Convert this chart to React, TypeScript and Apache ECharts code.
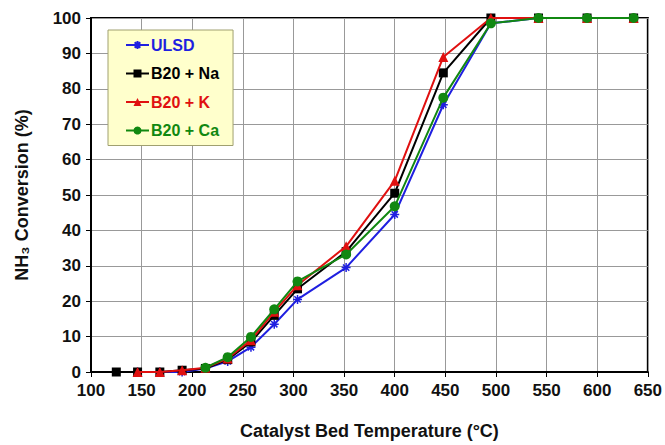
import React, { useEffect, useRef } from "react";
import * as echarts from "echarts";

const temps = [125, 146, 168, 190, 213, 235, 258, 281, 304, 352, 400, 448, 495, 542, 590, 636];
const ulsd = [null, 0, 0, 0, 1, 3, 7, 13.5, 20.5, 29.5, 44.5, 75.5, 98.5, 100, 100, 100];
const na = [0, 0, 0, 0.5, 1, 3.5, 8.5, 16, 23.5, 34, 50.5, 84.5, 100, 100, 100, 100];
const k = [null, 0, 0, 0.5, 1.2, 3.8, 9, 17, 24.5, 35.5, 54, 89, 100, 100, 100, 100];
const ca = [null, null, null, null, 1.2, 4.2, 9.9, 17.7, 25.6, 33.2, 46.8, 77.5, 98.5, 100, 100, 100];
const seriesNames = ["ULSD", "B20 + Na", "B20 + K", "B20 + Ca"];
const seriesColors = ["#1f1fe0", "#000000", "#e01010", "#118811"];

const FONT = "'Liberation Sans', Arial, sans-serif";

export default function App() {
  const ref = useRef<HTMLDivElement>(null);
  useEffect(() => {
    document.body.style.margin = "0";
    if (!ref.current) return;
    const chart = echarts.init(ref.current, undefined, { renderer: "svg" });
    const datas = [ulsd, na, k, ca];
    const star = "path://M0,5L10,5M5,0L5,10M1.5,1.5L8.5,8.5M8.5,1.5L1.5,8.5";
    const symbols = [star, "rect", "triangle", "circle"];
    const sizes = [9, 9, 10, 10];
    chart.setOption({
      animation: false,
      backgroundColor: "#ffffff",
      grid: {
        left: 91,
        right: 16,
        top: 18,
        bottom: 72,
        show: true,
        borderColor: "#000",
        borderWidth: 2,
      },
      legend: {
        orient: "vertical",
        left: 108,
        top: 30,
        backgroundColor: "#ffffcc",
        borderColor: "#a0a070",
        borderWidth: 1,
        padding: [7, 14, 7, 17],
        itemGap: 12.5,
        itemWidth: 23,
        itemHeight: 10,
        data: seriesNames.map((n, i) => ({
          name: n,
          textStyle: { color: seriesColors[i] },
        })),
        textStyle: { fontFamily: FONT, fontWeight: "bold", fontSize: 16, padding: [0, 0, 0, -3] },
      },
      xAxis: {
        type: "value",
        min: 100,
        max: 650,
        interval: 50,
        name: "Catalyst Bed Temperature (°C)",
        nameLocation: "middle",
        nameGap: 50,
        nameTextStyle: { fontFamily: FONT, fontWeight: "bold", fontSize: 18, color: "#111" },
        axisLine: { lineStyle: { color: "#000", width: 2 } },
        axisTick: { show: true, length: 5, lineStyle: { color: "#000" } },
        axisLabel: { fontFamily: FONT, fontWeight: "bold", fontSize: 17, color: "#111", margin: 10 },
        splitLine: { show: true, lineStyle: { color: "#999", width: 1 } },
      },
      yAxis: {
        type: "value",
        min: 0,
        max: 100,
        interval: 10,
        name: "NH₃ Conversion (%)",
        nameLocation: "middle",
        nameGap: 60,
        nameTextStyle: { fontFamily: FONT, fontWeight: "bold", fontSize: 18, color: "#111" },
        axisLine: { lineStyle: { color: "#000", width: 2 } },
        axisTick: { show: true, length: 5, lineStyle: { color: "#000" } },
        axisLabel: { fontFamily: FONT, fontWeight: "bold", fontSize: 17, color: "#111", margin: 10 },
        splitLine: { show: true, lineStyle: { color: "#999", width: 1 } },
      },
      series: datas.map((d, i) => ({
        name: seriesNames[i],
        type: "line",
        data: temps.map((t, j) => [t, d[j]]),
        symbol: symbols[i],
        symbolSize: sizes[i],
        showAllSymbol: true,
        connectNulls: false,
        lineStyle: { color: seriesColors[i], width: 2 },
        itemStyle: {
          color: seriesColors[i],
          borderColor: seriesColors[i],
          borderWidth: i === 0 ? 1.5 : 0,
        },
        z: 2 + i,
      })),
    });
    return () => chart.dispose();
  }, []);
  return <div ref={ref} style={{ width: 665, height: 445 }} />;
}
